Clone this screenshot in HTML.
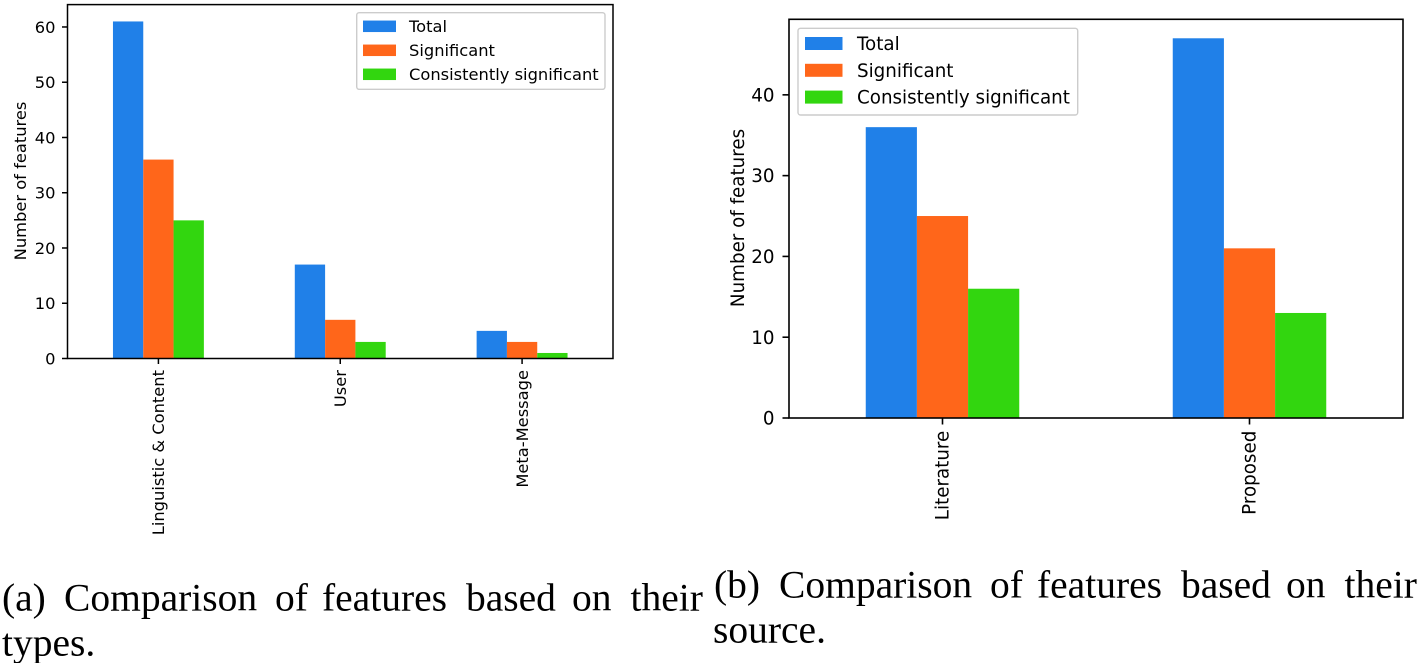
<!DOCTYPE html>
<html>
<head>
<meta charset="utf-8">
<title>Feature comparison charts</title>
<style>
html,body{margin:0;padding:0;background:#fff;width:1421px;height:663px;overflow:hidden}
svg{display:block}
text{font-family:"DejaVu Sans","Liberation Sans",sans-serif;fill:#000}
.caption{font-family:"Liberation Serif",serif;font-size:39.5px}
</style>
</head>
<body>
<svg id="figure" xmlns="http://www.w3.org/2000/svg" width="1421" height="663" viewBox="0 0 1421 663">
  <text class="caption" y="610.5"><tspan x="2">(a)</tspan> <tspan x="64">Comparison</tspan> <tspan x="275">of</tspan> <tspan x="322">features</tspan> <tspan x="466">based</tspan> <tspan x="572">on</tspan> <tspan x="630.5">their</tspan></text>
  <text class="caption" x="2" y="655.5">types.</text>
  <text class="caption" y="597.5"><tspan x="714">(b)</tspan> <tspan x="779">Comparison</tspan> <tspan x="990">of</tspan> <tspan x="1037">features</tspan> <tspan x="1181">based</tspan> <tspan x="1286">on</tspan> <tspan x="1344.5">their</tspan></text>
  <text class="caption" x="713" y="642.5">source.</text>
</svg>
<script>
const seriesNames = ["Total", "Significant", "Consistently significant"];
const seriesColors = ["#2080e8", "#ff661a", "#32d60f"];
const yAxisTitle = "Number of features";

const categoriesA = ["Linguistic & Content", "User", "Meta-Message"];
const totalA = [61, 17, 5];
const significantA = [36, 7, 3];
const consistentA = [25, 3, 1];
const yTicksA = [0, 10, 20, 30, 40, 50, 60];

const categoriesB = ["Literature", "Proposed"];
const totalB = [36, 47];
const significantB = [25, 21];
const consistentB = [16, 13];
const yTicksB = [0, 10, 20, 30, 40];

const NS = "http://www.w3.org/2000/svg";
const svg = document.getElementById("figure");

function make(parent, tag, attrs, text) {
  const el = document.createElementNS(NS, tag);
  for (const k in attrs) el.setAttribute(k, attrs[k]);
  if (text !== undefined) el.textContent = text;
  parent.appendChild(el);
  return el;
}

function drawChart(prefix, categories, seriesList, yTicks, o) {
  const g = make(svg, "g", {});
  
  

  const maxVal = Math.max.apply(null, seriesList.map(function (s) { return Math.max.apply(null, s); }));
  const yTop = maxVal * 1.05;
  const x = function (v) { return o.left + (v + 0.5) / categories.length * (o.right - o.left); };
  const y = function (v) { return o.bottom - v / yTop * (o.bottom - o.top); };
  const barW = 0.5 / seriesList.length;

  seriesList.forEach(function (values, s) {
    values.forEach(function (v, c) {
      const bar = make(g, "rect", {
        x: x(c - 0.25 + s * barW),
        y: y(v),
        width: x(barW) - x(0),
        height: o.bottom - y(v),
        fill: seriesColors[s]
      });
      
      
    });
  });

  const frame = make(g, "rect", {
    x: o.left, y: o.top, width: o.right - o.left, height: o.bottom - o.top,
    fill: "none", stroke: "#000", "stroke-width": o.line
  });
  
  

  yTicks.forEach(function (t) {
    const tick = make(g, "line", {
      x1: o.left - o.tick, x2: o.left, y1: y(t), y2: y(t),
      stroke: "#000", "stroke-width": o.line
    });
    
    
    const label = make(g, "text", {
      x: o.left - o.tick - o.yLabelGap, y: y(t) + o.font * 0.36,
      "text-anchor": "end", "font-size": o.font
    }, String(t));
    
    
  });

  categories.forEach(function (name, c) {
    const tick = make(g, "line", {
      x1: x(c), x2: x(c), y1: o.bottom, y2: o.bottom + o.tick,
      stroke: "#000", "stroke-width": o.line
    });
    
    
    const label = make(g, "text", {
      transform: "translate(" + (x(c) + o.xLabelDx) + "," + o.xLabelY + ") rotate(-90)",
      "text-anchor": "end", "font-size": o.font
    }, name);
    
    
  });

  const title = make(g, "text", {
    transform: "translate(" + o.titleX + "," + o.titleY + ") rotate(-90)",
    "text-anchor": "middle", "font-size": o.font
  }, yAxisTitle);
  
  

  const legend = make(g, "g", {});
  
  
  const lg = o.legend;
  const box = make(legend, "rect", {
    x: lg.x, y: lg.y, width: lg.w, height: lg.h, rx: 2.5, ry: 2.5,
    fill: "#fff", stroke: "#ccc", "stroke-width": 1.4
  });
  
  
  seriesNames.forEach(function (name, s) {
    const cy = lg.firstY + s * lg.step;
    const sw = make(legend, "rect", {
      x: lg.swatchX, y: cy - lg.swatchH / 2, width: lg.swatchW, height: lg.swatchH,
      fill: seriesColors[s]
    });
    
    
    const tx = make(legend, "text", {
      x: lg.textX, y: cy + o.font * 0.36, "font-size": o.font
    }, name);
    
    
  });
}

drawChart("types", categoriesA, [totalA, significantA, consistentA], yTicksA, {
  left: 67.5, right: 613, top: 4.6, bottom: 358.5, tick: 5.5, font: 16.3, line: 1.5,
  yLabelGap: 6.5, xLabelDx: 5.8, xLabelY: 370,
  titleX: 26, titleY: 181,
  legend: { x: 356.7, y: 12.7, w: 248.3, h: 76.6, swatchX: 363, swatchW: 33, swatchH: 11.5, textX: 409, firstY: 26.3, step: 24 }
});

drawChart("source", categoriesB, [totalB, significantB, consistentB], yTicksB, {
  left: 789, right: 1403, top: 19.3, bottom: 418, tick: 6.5, font: 18.3, line: 1.6,
  yLabelGap: 8, xLabelDx: 6, xLabelY: 430.7,
  titleX: 744, titleY: 218,
  legend: { x: 798, y: 28.3, w: 279.7, h: 86.7, swatchX: 805, swatchW: 37.5, swatchH: 13, textX: 857, firstY: 43.5, step: 26.8 }
});
</script>
</body>
</html>
